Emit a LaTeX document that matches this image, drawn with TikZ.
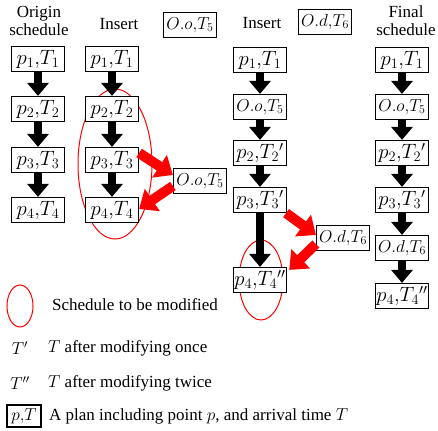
\documentclass[tikz,border=0pt]{standalone}
\usepackage{fontspec}
\setmainfont{Liberation Serif}
\usetikzlibrary{arrows.meta,shapes.geometric}
\begin{document}
\begin{tikzpicture}[x=1pt,y=-1pt,
  box/.style={draw,line width=1.2pt,minimum width=53pt,minimum height=25pt,inner sep=1pt,font=\fontsize{19.5}{20}\selectfont},
  obox/.style={box,font=\fontsize{18}{18}\selectfont},
  lbl/.style={font=\fontsize{17}{18}\selectfont,align=center,inner sep=0pt},
  blk/.style={line width=8.5pt,-{Triangle[width=21pt,length=13pt]}},
  redarr/.style={red,line width=10pt,-{Triangle[width=26pt,length=16pt]}},
  redell/.style={draw=red,line width=1pt,ellipse,inner sep=0pt}
]
\useasboundingbox (0,0) rectangle (438,430);
% headers
\node[lbl] (h1) at (39,21) {Origin\\schedule};
\node[lbl] (h2) at (119,24) {Insert};
\node[lbl] (h3) at (262,23) {Insert};
\node[lbl] (h4) at (406,21) {Final\\schedule};
\node[obox] (o5top) at (190,25) {$O.o{,}T_5$};
\node[obox] (d6top) at (325,22) {$O.d{,}T_6$};
% column 1
\node[box] (a1) at (38,59) {$p_1{,}T_1$};
\node[box] (a2) at (38,109) {$p_2{,}T_2$};
\node[box] (a3) at (38,160) {$p_3{,}T_3$};
\node[box] (a4) at (38,210) {$p_4{,}T_4$};
% column 2
\node[redell,minimum width=74pt,minimum height=150pt] (e2) at (115,164) {};
\node[box,fill=white] (b1) at (112,59) {$p_1{,}T_1$};
\node[box,fill=white] (b2) at (112,109) {$p_2{,}T_2$};
\node[box,fill=white] (b3) at (112,160) {$p_3{,}T_3$};
\node[box,fill=white] (b4) at (112,210) {$p_4{,}T_4$};
\node[obox] (o5) at (200,181) {$O.o{,}T_5$};
% column 3
\node[box] (c1) at (260,60) {$p_1{,}T_1$};
\node[obox] (c2) at (260,107) {$O.o{,}T_5$};
\node[box] (c3) at (260,153) {$p_2{,}T_2{}'$};
\node[box] (c4) at (260,200) {$p_3{,}T_3{}'$};
\node[redell,minimum width=44pt,minimum height=80pt] (e3) at (261,280) {};
\node[box,fill=white] (c5) at (260,280) {$p_4{,}T_4{}''$};
\node[obox] (d6) at (343,238) {$O.d{,}T_6$};
% column 4
\node[box] (f1) at (402,60) {$p_1{,}T_1$};
\node[obox] (f2) at (402,107) {$O.o{,}T_5$};
\node[box] (f3) at (402,153) {$p_2{,}T_2{}'$};
\node[box] (f4) at (402,200) {$p_3{,}T_3{}'$};
\node[obox] (f5) at (402,248) {$O.d{,}T_6$};
\node[box] (f6) at (402,296) {$p_4{,}T_4{}''$};
% black arrows
\foreach \u/\v in {a1/a2,a2/a3,a3/a4,b1/b2,b2/b3,b3/b4,c1/c2,c2/c3,c3/c4,c4/c5,f1/f2,f2/f3,f3/f4,f4/f5,f5/f6}
  \draw[blk] (\u.south) -- (\v.north);
% red arrows
\draw[redarr] ([yshift=7pt]b3.east) -- ([yshift=6pt]o5.west);
\draw[redarr] ([yshift=-5pt]o5.west) -- ([yshift=1pt]b4.east);
\draw[redarr] ([xshift=-1pt]c4.south east) -- ([yshift=3pt]d6.west);
\draw[redarr] ([yshift=-6pt]d6.west) -- ([xshift=2pt,yshift=-3pt]c5.north east);
% legend
\node[redell,minimum width=26pt,minimum height=42pt] (le) at (20,306) {};
\node[lbl,anchor=west] (lt1) at (52,305) {Schedule to be modified};
\node[lbl] (ls2) at (20,348) {$T'$};
\node[lbl,anchor=west] (lt2) at (48,348) {$T$ after modifying once};
\node[lbl] (ls3) at (20,383) {$T''$};
\node[lbl,anchor=west] (lt3) at (48,383) {$T$ after modifying twice};
\node[draw,line width=1.2pt,minimum width=34pt,minimum height=22pt,inner sep=1pt,font=\fontsize{19}{20}\selectfont] (lb) at (24,416) {$p{,}T$};
\node[lbl,anchor=west] (lt4) at (49,416) {A plan including point $p$, and arrival time $T$};
\end{tikzpicture}
\end{document}
